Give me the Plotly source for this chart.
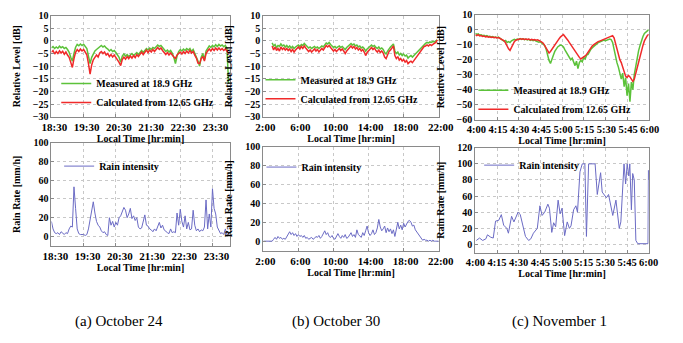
import numpy as np
import plotly.graph_objects as go

# ---------------- data ----------------
a_ticks = ["18:30", "19:30", "20:30", "21:30", "22:30", "23:30"]
b_ticks = ["2:00", "6:00", "10:00", "14:00", "18:00", "22:00"]
c_ticks = ["4:00", "4:15", "4:30", "4:45", "5:00", "5:15", "5:30", "5:45", "6:00"]
level_ticks_ab = [10, 5, 0, -5, -10, -15, -20, -25, -30]
level_ticks_c = [10, 0, -10, -20, -30, -40, -50, -60]
rain_ticks_ab = [0, 20, 40, 60, 80, 100]
rain_ticks_c = [0, 20, 40, 60, 80, 100, 120]

# (a) October 24 : samples every 3 min from 18:30 to 24:00
a_span = ("18:30", "24:00")
a_measured = [-2.8, -2.2, -3.0, -2.4, -2.9, -2.1, -2.7, -2.3, -3.0, -2.6,
              -3.4, -4.5, -6.5, -8.0, -5.0, -2.5, -1.4, -1.9, -1.2, -1.8,
              -1.3, -2.0, -3.0, -6.0, -9.0, -6.5, -5.0, -4.0, -3.4, -2.8,
              -2.2, -1.8, -2.4, -2.0, -2.8, -3.2, -4.0, -3.4, -4.2, -3.8,
              -4.6, -5.5, -6.5, -8.5, -6.0, -5.2, -6.0, -5.4, -6.2, -5.6,
              -5.0, -5.8, -5.2, -4.6, -5.4, -4.4, -3.8, -4.6, -3.6, -3.0,
              -3.6, -2.8, -3.4, -2.6, -3.0, -2.2, -1.6, -2.2, -1.8, -2.6,
              -3.4, -4.2, -3.6, -4.4, -3.8, -4.8, -6.5, -9.0, -6.0, -4.2,
              -3.4, -4.0, -3.2, -3.8, -3.0, -3.6, -3.0, -4.2, -3.4, -4.8,
              -6.0, -8.0, -10.0, -6.5, -5.0, -7.5, -4.0, -2.8, -2.0, -2.6,
              -1.8, -2.4, -1.5, -2.2, -1.4, -2.0, -1.6, -2.3, -1.8, -3.0,
              -17.0]
a_calculated = [-4.5, -3.8, -5.2, -4.2, -5.0, -3.9, -4.8, -4.1, -5.3, -4.4,
                -5.6, -6.5, -8.5, -10.5, -7.0, -4.5, -3.4, -4.2, -3.2, -4.0,
                -3.4, -4.4, -5.5, -9.0, -13.2, -9.5, -7.5, -6.5, -5.6, -6.4,
                -4.8, -4.2, -5.0, -4.4, -5.6, -5.0, -6.2, -5.4, -6.4, -5.6,
                -6.8, -7.5, -8.5, -9.8, -7.4, -6.4, -7.2, -6.2, -7.0, -6.0,
                -6.8, -5.8, -6.6, -5.4, -6.2, -5.0, -4.4, -5.4, -4.2, -3.6,
                -4.6, -3.6, -4.4, -3.4, -4.2, -3.2, -2.6, -3.4, -2.8, -3.8,
                -4.6, -5.4, -4.6, -5.6, -4.8, -5.8, -6.4, -7.0, -5.6, -5.0,
                -4.4, -5.2, -4.2, -5.0, -4.0, -4.8, -3.8, -4.8, -4.2, -5.6,
                -6.8, -8.8, -9.0, -7.0, -6.2, -8.0, -5.0, -4.0, -3.2, -4.0,
                -3.0, -3.8, -2.8, -3.6, -2.8, -3.6, -3.0, -3.8, -3.2, -4.0,
                -5.0]
a_rain = [16, 8, 4, 3, 4, 2, 5, 3, 2, 4,
          3, 8, 11, 10, 53, 30, 8, 3, 2, 2,
          2, 1, 2, 8, 18, 28, 37, 25, 16, 12,
          10, 6, 4, 5, 2, 1, 20, 12, 16, 10,
          15, 12, 20, 22, 26, 31, 28, 20, 24, 30,
          19, 22, 17, 20, 10, 8, 9, 17, 23, 12,
          11, 8, 7, 5, 8, 6, 10, 15, 9, 12,
          7, 5, 4, 3, 8, 4, 5, 4, 25, 12,
          29, 16, 10, 22, 8, 15, 7, 8, 28, 12,
          6, 8, 5, 7, 6, 10, 39, 8, 24, 10,
          51, 30, 24, 10, 6, 3, 4, 2, 8, 2,
          3]

# (b) October 30 : level samples every 10 min 3:00-21:50, rain every 10 min 2:00-22:00
b_level_span = ("3:00", "21:50")
b_measured = [-0.8, -2.0, -1.4, -2.6, -1.8, -2.2, -1.2, -2.0, -1.6, -2.4,
              -1.8, -2.6, -2.0, -2.8, -2.2, -3.0, -2.4, -2.0, -1.6, -2.2,
              -1.4, -1.8, -1.0, -1.6, -2.2, -2.8, -2.4, -3.0, -2.6, -2.2,
              -2.8, -2.4, -3.0, -2.6, -2.0, -2.4, -1.6, -0.8, -1.2, -0.6,
              -1.4, -2.0, -2.6, -2.2, -2.8, -2.4, -2.0, -2.6, -2.2, -2.8,
              -3.4, -2.6, -2.0, -1.4, -1.0, -1.6, -1.2, -2.0, -1.6, -2.4,
              -2.0, -2.8, -2.4, -3.0, -4.0, -3.2, -2.6, -2.0, -1.6, -2.2,
              -1.8, -2.6, -3.0, -2.4, -3.2, -2.8, -3.4, -4.6, -5.2, -4.0,
              -3.0, -2.4, -1.8, -1.2, -4.0, -5.0, -4.4, -5.6, -5.0, -5.8,
              -5.2, -6.0, -5.6, -6.8, -6.2, -5.8, -6.4, -5.6, -5.2, -4.6,
              -4.0, -3.4, -2.6, -1.8, -1.2, -1.0, -0.6, -0.8, -0.4, -0.6,
              -0.2, -0.4, 0.0, 0.4]
b_calculated = [-2.0, -3.6, -2.4, -3.8, -3.0, -4.0, -2.4, -3.4, -2.8, -3.6,
                -3.0, -3.8, -3.2, -4.2, -3.4, -4.4, -3.6, -3.0, -2.4, -3.2,
                -2.2, -3.0, -2.0, -2.8, -3.4, -4.2, -3.6, -4.4, -3.8, -3.2,
                -4.0, -3.4, -4.4, -3.8, -3.0, -3.6, -2.6, -1.8, -2.4, -1.8,
                -2.6, -3.4, -4.0, -3.4, -4.2, -3.6, -3.0, -3.8, -3.2, -4.0,
                -5.0, -4.0, -3.2, -2.6, -2.0, -2.8, -2.2, -3.2, -2.6, -3.6,
                -3.0, -4.0, -3.4, -4.4, -5.8, -4.6, -3.8, -3.0, -2.6, -3.4,
                -2.8, -3.8, -4.4, -3.6, -4.6, -4.0, -4.8, -6.4, -7.0, -5.6,
                -4.2, -3.6, -2.8, -2.0, -5.8, -7.0, -6.2, -7.6, -7.0, -8.0,
                -7.4, -8.4, -7.8, -9.0, -8.4, -8.0, -8.6, -7.6, -7.0, -6.2,
                -5.4, -4.6, -3.6, -2.8, -2.2, -2.0, -1.6, -2.0, -1.4, -1.8,
                -1.2, -1.0, -0.6, 0.4]
b_rain_span = ("2:00", "22:00")
b_rain = [0, 0, 0, 0, 0, 0, 0, 2, 4, 2,
          5, 3, 4, 2, 3, 2, 5, 8, 10, 7,
          9, 6, 8, 5, 7, 5, 6, 4, 6, 3,
          4, 2, 3, 4, 2, 3, 5, 4, 6, 3,
          5, 8, 11, 7, 9, 5, 4, 6, 3, 2,
          5, 8, 5, 3, 6, 4, 7, 3, 4, 6,
          9, 5, 7, 4, 12, 7, 5, 4, 9, 6,
          11, 16, 9, 6, 8, 12, 7, 9, 14, 23,
          15, 11, 13, 16, 9, 14, 10, 13, 8, 12,
          5, 14, 20, 13, 17, 12, 19, 15, 18, 21,
          22, 20, 16, 17, 12, 10, 8, 6, 4, 1,
          2, 1, 1, 0, 1, 0, 1, 0, 0, 0,
          0]

# (c) November 1 : level samples every minute 4:00-6:00
c_span = ("4:00", "6:00")
c_measured = [-2.5, -3.2, -2.8, -3.6, -3.4, -4.0, -3.7, -4.3, -4.0, -4.6,
              -4.4, -4.9, -4.6, -5.2, -4.9, -5.4, -5.0, -5.6, -6.2, -7.0,
              -7.8, -7.2, -8.5, -8.0, -8.6, -7.4, -7.0, -6.4, -6.8, -6.2,
              -6.6, -6.0, -6.5, -6.1, -6.7, -6.3, -6.9, -6.5, -7.1, -6.8,
              -7.4, -7.0, -7.6, -7.9, -8.4, -8.1, -8.9, -9.8, -10.5, -13.0,
              -17.0, -20.5, -22.5, -19.0, -17.0, -14.5, -12.5, -11.5, -10.8, -10.2,
              -10.6, -11.5, -13.5, -15.0, -17.0, -18.5, -20.0, -19.0, -22.0, -24.0,
              -21.0, -26.0, -22.0, -20.5, -21.5, -18.5, -19.5, -17.0, -16.5, -14.5,
              -13.0, -12.0, -11.0, -10.0, -9.2, -8.6, -8.2, -7.8, -7.4, -7.0,
              -7.3, -6.8, -6.6, -6.2, -6.6, -8.5, -13.0, -18.0, -22.0, -25.0,
              -29.0, -33.0, -29.0, -38.0, -32.0, -44.0, -36.0, -48.0, -35.0, -40.0,
              -30.0, -24.0, -18.0, -14.0, -10.5, -7.0, -4.5, -2.5, -1.5, -0.5,
              0.0]
c_calculated = [-3.5, -4.0, -3.3, -4.2, -3.9, -4.5, -4.2, -4.8, -4.5, -5.0,
                -4.7, -5.2, -4.9, -5.4, -5.1, -5.5, -5.3, -5.8, -6.0, -6.8,
                -7.5, -9.0, -11.0, -12.8, -13.8, -11.5, -9.5, -8.0, -7.0, -6.5,
                -6.2, -6.0, -6.4, -6.1, -6.5, -6.2, -6.6, -6.3, -6.8, -6.4,
                -6.9, -6.6, -7.0, -6.7, -7.2, -7.6, -8.3, -9.0, -10.5, -12.0,
                -14.0, -15.5, -14.5, -13.0, -11.5, -9.8, -8.2, -7.0, -6.0, -4.8,
                -4.0, -3.2, -4.5, -5.5, -7.0, -8.5, -10.0, -11.5, -12.5, -14.0,
                -16.0, -17.0, -18.5, -19.5, -19.0, -18.0, -17.5, -16.5, -15.0, -13.5,
                -12.0, -10.8, -10.0, -9.2, -8.6, -8.0, -7.6, -7.2, -6.8, -6.5,
                -6.2, -6.0, -5.6, -5.2, -4.6, -4.0, -5.5, -9.0, -13.5, -17.0,
                -20.0, -22.0, -25.0, -28.0, -31.0, -32.0, -30.5, -31.5, -33.0, -34.5,
                -33.0, -29.0, -26.0, -22.0, -18.5, -14.0, -10.5, -7.5, -5.5, -4.0,
                -3.0]
c_rain_minutes = [240.7, 242.9, 245.1, 247.3, 248.4, 250.7, 252.4, 254.0, 256.2, 258.0,
                  259.6, 261.8, 262.9, 265.1, 266.7, 269.6, 271.1, 272.9, 274.7, 276.9,
                  278.4, 280.2, 281.8, 282.9, 284.7, 286.2, 288.0, 290.2, 291.3, 292.9,
                  294.2, 295.6, 297.3, 298.7, 300.0, 301.8, 303.6, 305.1, 306.2, 308.0,
                  309.6, 310.7, 312.4, 314.0, 315.8, 316.9, 318.4, 321.8, 322.9, 324.4,
                  325.8, 326.7, 327.8, 329.6, 330.7, 332.2, 333.3, 335.1, 337.3, 339.6,
                  340.7, 342.9, 344.0, 345.1, 346.2, 346.9, 348.0, 348.9, 350.0, 351.1,
                  352.4, 359.5, 359.8, 360.0]
c_rain = [5, 8, 5, 7, 12, 9, 8, 29, 30, 37,
          24, 20, 14, 35, 28, 40, 37, 25, 10, 5,
          7, 14, 17, 20, 48, 36, 40, 50, 45, 15,
          27, 22, 55, 38, 45, 11, 28, 20, 23, 43,
          48, 40, 90, 100, 100, 10, 100, 100, 100, 62,
          80, 89, 65, 60, 58, 62, 52, 36, 55, 20,
          28, 100, 75, 100, 85, 100, 43, 88, 80, 5,
          1, 1, 92, 80]

captions = ["(a) October 24", "(b) October 30", "(c) November 1"]
legend_names = ["Measured at 18.9 GHz", "Calculated from 12.65 GHz", "Rain intensity"]

# ---------------- helpers ----------------
def hm(s):
    h, m = s.split(":")
    return int(h) * 60 + int(m)

def sample_times(span, n):
    return np.linspace(hm(span[0]), hm(span[1]), n)

W, H = 683, 343
FONT = "Liberation Serif"
GREEN = "#5cc23a"
RED = "#f02a2a"
BLUE = "#6b6bc4"

def xd(a, b):
    return [a / W, b / W]

def yd(top, bot):
    return [1 - bot / H, 1 - top / H]

fig = go.Figure()

panels_top = [
    (sample_times(a_span, len(a_measured)), a_measured, sample_times(a_span, len(a_calculated)), a_calculated),
    (sample_times(b_level_span, len(b_measured)), b_measured, sample_times(b_level_span, len(b_calculated)), b_calculated),
    (sample_times(c_span, len(c_measured)), c_measured, sample_times(c_span, len(c_calculated)), c_calculated),
]
for i, (tg, g, tr, r) in enumerate(panels_top):
    ax = "" if i == 0 else str(i + 1)
    lg = "legend" if i == 0 else "legend%d" % (i + 1)
    fig.add_trace(go.Scatter(x=tg, y=g, mode="lines", name=legend_names[0],
                             line=dict(color=GREEN, width=1.5),
                             xaxis="x" + ax, yaxis="y" + ax, legend=lg))
    fig.add_trace(go.Scatter(x=tr, y=r, mode="lines", name=legend_names[1],
                             line=dict(color=RED, width=1.5),
                             xaxis="x" + ax, yaxis="y" + ax, legend=lg))

panels_bot = [
    (sample_times(a_span, len(a_rain)), a_rain),
    (sample_times(b_rain_span, len(b_rain)), b_rain),
    (c_rain_minutes, c_rain),
]
for i, (t, v) in enumerate(panels_bot):
    n = i + 4
    fig.add_trace(go.Scatter(x=t, y=v, mode="lines", name=legend_names[2],
                             line=dict(color=BLUE, width=1),
                             xaxis="x%d" % n, yaxis="y%d" % n, legend="legend%d" % n))

ytickfont = dict(family=FONT, size=10, color="black", weight="bold")
titlefont = dict(family=FONT, size=10, color="black", weight="bold")
FRAME = "#8a8a8a"
GRID = "#c8c8c8"

def xaxis(dom, ticks, rng, anchor, shift, fsize):
    return dict(domain=dom, range=rng, tickvals=[hm(t) for t in ticks], ticktext=ticks,
                showline=True, linecolor=FRAME, linewidth=1, mirror=True,
                ticks="inside", ticklen=3, tickcolor=FRAME,
                showgrid=True, gridcolor=GRID, griddash="dot", gridwidth=1,
                zeroline=False, anchor=anchor, tickangle=0,
                tickfont=dict(family=FONT, size=fsize, color="black", weight="bold"),
                ticklabelshift=shift,
                title=dict(text="Local Time [hr:min]", font=titlefont, standoff=0))

def yaxis(dom, tvals, rng, anchor, title):
    return dict(domain=dom, range=rng, tickvals=tvals,
                showline=True, linecolor=FRAME, linewidth=1, mirror=True,
                ticks="inside", ticklen=3, tickcolor=FRAME,
                showgrid=True, gridcolor=GRID, griddash="dot", gridwidth=1,
                zeroline=False, tickfont=ytickfont, anchor=anchor,
                title=dict(text=title, font=titlefont, standoff=10))

XA, XB, XC = xd(43, 228), xd(263, 445), xd(483, 663)
a_rng = [hm("18:30"), hm("24:02")]
b_rng = [hm("2:00"), hm("22:00")]
c_rng = [hm("4:00"), hm("6:00")]

layout = dict(
    width=W, height=H, margin=dict(l=0, r=0, t=0, b=0),
    paper_bgcolor="white", plot_bgcolor="white",
    xaxis=xaxis(XA, a_ticks, a_rng, "y", 3, 11),
    yaxis=yaxis(yd(11, 115), level_ticks_ab, [-30, 10], "x", "Relative Level [dB]"),
    xaxis2=xaxis(XB, b_ticks, b_rng, "y2", 2, 11),
    yaxis2=yaxis(yd(11, 115), level_ticks_ab, [-30, 10], "x2", "Relative Level [dB]"),
    xaxis3=xaxis(XC, c_ticks, c_rng, "y3", 1, 10.5),
    yaxis3=yaxis(yd(10, 118), level_ticks_c, [-60, 10], "x3", "Relative Level [dB]"),
    xaxis4=xaxis(XA, a_ticks, a_rng, "y4", 4, 11),
    yaxis4=yaxis(yd(142, 248), rain_ticks_ab, [-10, 100], "x4", "Rain Rate [mm/h]"),
    xaxis5=xaxis(XB, b_ticks, b_rng, "y5", 2, 11),
    yaxis5=yaxis(yd(146, 253), rain_ticks_ab, [-10, 100], "x5", "Rain Rate [mm/h]"),
    xaxis6=xaxis(XC, c_ticks, c_rng, "y6", 0, 10.5),
    yaxis6=yaxis(yd(147, 255), rain_ticks_c, [-10, 120], "x6", "Rain Rate [mm/h]"),
)

legfont = dict(family=FONT, size=10, color="black", weight="bold")
leg_pos = {"legend": (48, 66), "legend2": (260, 62), "legend3": (481, 73),
           "legend4": (51, 151), "legend5": (261, 152), "legend6": (487, 150)}
for k, (lx, ly) in leg_pos.items():
    layout[k] = dict(x=lx / W, y=1 - ly / H, xanchor="left", yanchor="top",
                     bgcolor="rgba(0,0,0,0)", font=legfont, borderwidth=0,
                     tracegroupgap=0, itemwidth=30)

fig.update_layout(**layout)

cap_x = [113, 338, 570]
for cx, txt in zip(cap_x, captions):
    fig.add_annotation(x=cx / W, y=1 - 326 / H, xref="paper", yref="paper",
                       xanchor="center", yanchor="middle",
                       text=txt, showarrow=False,
                       font=dict(family=FONT, size=15, color="black"))

fig.write_html("out.html", config={"displayModeBar": False},
               post_script="document.body.style.margin='0px';")
